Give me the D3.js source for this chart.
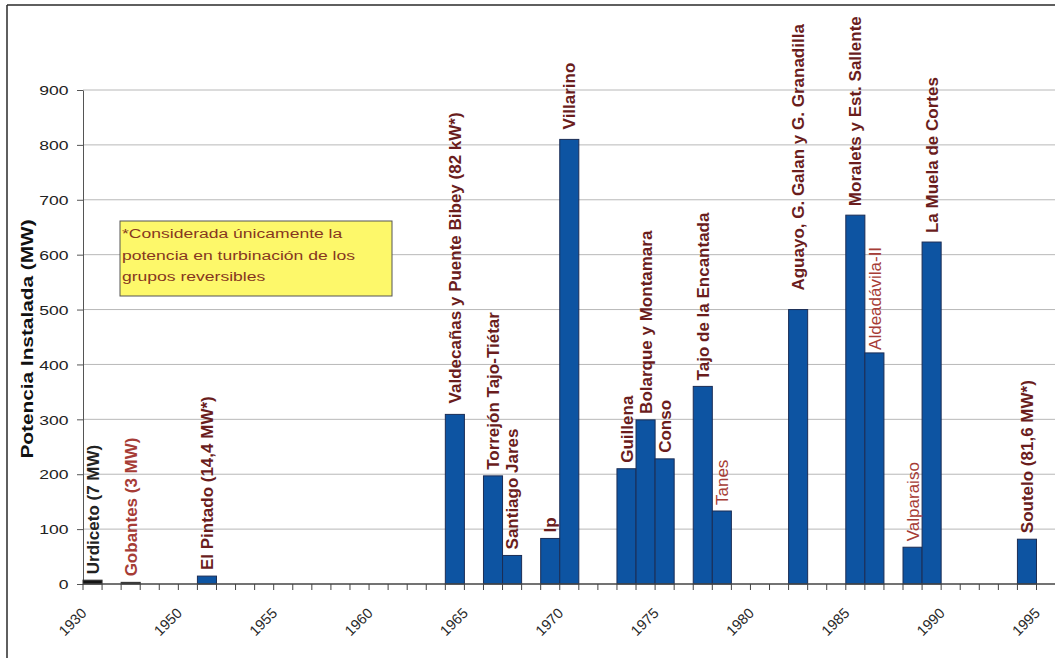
<!DOCTYPE html>
<html>
<head>
<meta charset="utf-8">
<script src="https://cdn.jsdelivr.net/npm/d3@7"></script>
<style>
  html, body { margin: 0; padding: 0; background: #fff; }
  svg { display: block; font-family: "Liberation Sans", Arial, sans-serif; }
</style>
</head>
<body>
<svg id="chart" width="1055" height="658"></svg>
<script>
// ---- data ----
const categories = ["1930","1931","1932","1933","1934",
  "1950","1951","1952","1953","1954","1955","1956","1957","1958","1959",
  "1960","1961","1962","1963","1964","1965","1966","1967","1968","1969",
  "1970","1971","1972","1973","1974","1975","1976","1977","1978","1979",
  "1980","1981","1982","1983","1984","1985","1986","1987","1988","1989",
  "1990","1991","1992","1993","1994","1995"];
const tickLabels = ["1930","1950","1955","1960","1965","1970","1975","1980","1985","1990","1995"];
const yTicks = [0,100,200,300,400,500,600,700,800,900];

const plantNames = ["Urdiceto (7 MW)","Gobantes (3 MW)","El Pintado (14,4 MW*)",
  "Valdecañas y Puente Bibey (82 kW*)","Torrejón Tajo-Tiétar","Santiago Jares","Ip","Villarino",
  "Guillena","Bolarque y Montamara","Conso","Tajo de la Encantada","Tanes",
  "Aguayo, G. Galan y G. Granadilla","Moralets y Est. Sallente","Aldeadávila-II","Valparaiso",
  "La Muela de Cortes","Soutelo (81,6 MW*)"];
const plantYears = ["1930","1932","1951","1964","1966","1967","1969","1970",
  "1973","1974","1975","1977","1978","1982","1985","1986","1988","1989","1994"];
const plantPower = [7,3,14.4,309,197,52,83,810,210,299,228,360,133,500,672,421,67,623,81.6];

const noteLines = ["*Considerada únicamente la","potencia en turbinación de los","grupos reversibles"];
const yTitle = "Potencia Instalada (MW)";

// ---- drawing ----
const svg = d3.select("#chart");
const W = 1055, H = 658;
const plotLeft = 83, bandW = 19.07, plotTop = 90, plotBottom = 584;
const plotRight = plotLeft + bandW * categories.length;

const x = d3.scaleBand().domain(categories).range([plotLeft, plotRight]).padding(0);
const y = d3.scaleLinear().domain([0, 900]).range([plotBottom, plotTop]);

svg.append("rect").attr("width", W).attr("height", H).attr("fill", "#fff");

// gridlines
svg.append("g").selectAll("line").data(yTicks.filter(d => d > 0)).join("line")
  .attr("x1", plotLeft).attr("x2", plotRight)
  .attr("y1", d => y(d)).attr("y2", d => y(d))
  .attr("stroke", "#b8b8b8").attr("stroke-width", 1);

// y axis
const yAxis = svg.append("g").attr("transform", `translate(${plotLeft},0)`)
  .call(d3.axisLeft(y).tickValues(yTicks).tickSize(6).tickSizeOuter(0));
yAxis.select(".domain").attr("stroke", "#555");
yAxis.selectAll(".tick line").attr("stroke", "#555");
yAxis.selectAll(".tick text")
  .attr("x", -14.5 / 1.35).attr("dy", "0.36em")
  .attr("transform", "scale(1.35,1)")
  .attr("font-size", 13).attr("fill", "#222")
  .attr("font-family", "'Liberation Sans', Arial, sans-serif");

// bars
const plants = plantNames.map((n, i) => ({name: n, year: plantYears[i], value: plantPower[i]}));
svg.append("g").selectAll("rect").data(plants).join("rect")
  .attr("x", d => x(d.year))
  .attr("width", x.bandwidth())
  .attr("y", d => y(d.value))
  .attr("height", d => y(0) - y(d.value))
  .attr("fill", d => d.value < 10 ? "#151515" : "#0d54a2")
  .attr("stroke", d => d.value < 10 ? "#333" : "#1b2d55")
  .attr("stroke-width", 1);

// x axis line + category ticks (between categories)
svg.append("line").attr("x1", plotLeft).attr("x2", W)
  .attr("y1", plotBottom).attr("y2", plotBottom)
  .attr("stroke", "#444").attr("stroke-width", 1.3);
const boundaries = categories.map(c => x(c)).concat([x(categories[categories.length - 1]) + x.bandwidth()]);
svg.append("g").selectAll("line").data(boundaries).join("line")
  .attr("x1", d => d).attr("x2", d => d)
  .attr("y1", plotBottom).attr("y2", plotBottom + 6)
  .attr("stroke", "#444").attr("stroke-width", 1);

// x tick labels
svg.append("g").selectAll("text").data(tickLabels).join("text")
  .attr("transform", d => `translate(${x(d) + x.bandwidth() / 2 - 5},${614}) rotate(-45)`)
  .attr("text-anchor", "end")
  .attr("font-size", 14.5).attr("fill", "#2a2a2a")
  .text(d => d);

// bar labels
const lightSet = new Set(["Tanes", "Aldeadávila-II", "Valparaiso"]);
const labelGap = {"Aguayo, G. Galan y G. Granadilla": 19, "Valdecañas y Puente Bibey (82 kW*)": 11,
  "Villarino": 10, "Moralets y Est. Sallente": 9, "La Muela de Cortes": 9, "Aldeadávila-II": 3};
svg.append("g").selectAll("text").data(plants).join("text")
  .attr("transform", d => `translate(${x(d.year) + x.bandwidth() / 2},${y(d.value) - (labelGap[d.name] || 6)}) rotate(-90)`)
  .attr("dy", "0.36em")
  .attr("text-anchor", "start")
  .attr("font-size", 17)
  .attr("font-weight", d => lightSet.has(d.name) ? "normal" : "bold")
  .attr("fill", d => d.value === 7 ? "#222" : (lightSet.has(d.name) || d.value === 3 ? "#a63c36" : "#6a1d1d"))
  .text(d => d.name);

// y title
svg.append("text")
  .attr("transform", `translate(27,${(plotTop + plotBottom) / 2 + 2}) rotate(-90) scale(1.3,1)`)
  .attr("text-anchor", "middle").attr("dy", "0.36em")
  .attr("font-size", 16).attr("font-weight", "bold").attr("fill", "#111")
  .text(yTitle);

// note box
const note = svg.append("g");
note.append("rect").attr("x", 120).attr("y", 221).attr("width", 272).attr("height", 75)
  .attr("fill", "#fdf86a").attr("stroke", "#555").attr("stroke-width", 1);
note.selectAll("text").data(noteLines).join("text")
  .attr("transform", (d, i) => `translate(122,${238 + i * 21.5}) scale(1.3,1)`)
  .attr("font-size", 13.5).attr("fill", "#86371f")
  .text(d => d);

// outer frame
svg.append("line").attr("x1", 7).attr("x2", W).attr("y1", 5).attr("y2", 5)
  .attr("stroke", "#2a2a2a").attr("stroke-width", 1.5);
svg.append("line").attr("x1", 7).attr("x2", 7).attr("y1", 5).attr("y2", H)
  .attr("stroke", "#2a2a2a").attr("stroke-width", 1.5);
</script>
</body>
</html>
